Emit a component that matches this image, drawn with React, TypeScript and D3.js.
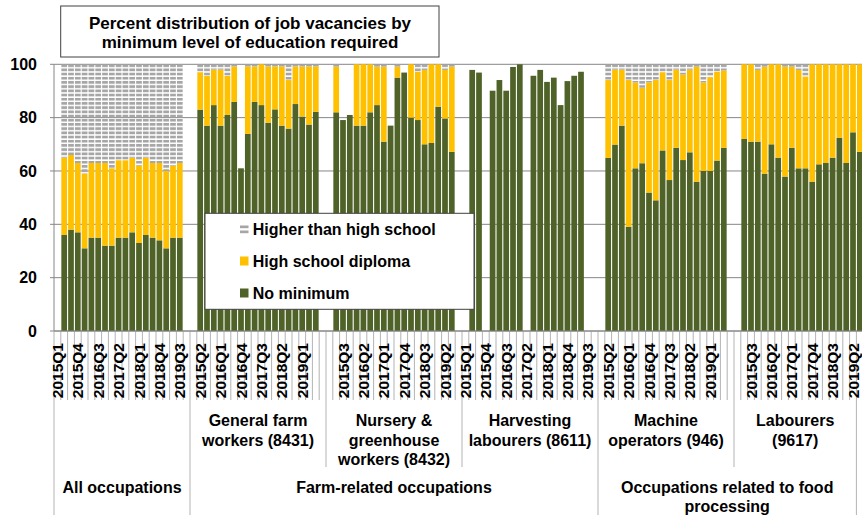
import React from 'react';
import * as d3 from 'd3';

// quarters shown on the first axis level (2015Q1 has no data in any group)
const quarters = [
  '2015Q1', '2015Q2', '2015Q3', '2015Q4', '2016Q1', '2016Q2', '2016Q3', '2016Q4',
  '2017Q1', '2017Q2', '2017Q3', '2017Q4', '2018Q1', '2018Q2', '2018Q3', '2018Q4',
  '2019Q1', '2019Q2', '2019Q3',
];

const occupationNames = [
  '',
  'General farm\nworkers (8431)',
  'Nursery &\ngreenhouse\nworkers (8432)',
  'Harvesting\nlabourers (8611)',
  'Machine\noperators (946)',
  'Labourers\n(9617)',
];

// sector label, first and last occupation group it covers
const sectors: Array<[string, number, number]> = [
  ['All occupations', 0, 0],
  ['Farm-related occupations', 1, 3],
  ['Occupations related to food\nprocessing', 4, 5],
];

const seriesNames = ['Higher than high school', 'High school diploma', 'No minimum'];

type V = number | null;

// All occupations
const allNoMin: V[] = [null, 36, 38, 37, 31, 35, 35, 32, 32, 35, 35, 37, 33, 36, 35, 34, 31, 35, 35];
const allHighSchool: V[] = [null, 29, 28, 26, 28, 28, 28, 31, 29, 29, 29, 28, 29, 29, 28, 29, 29, 27, 28];
const allHigher: V[] = [null, 35, 34, 37, 41, 37, 37, 37, 39, 36, 36, 35, 38, 35, 37, 37, 40, 38, 37];

// General farm workers (8431)
const farmNoMin: V[] = [null, 83, 77, 84.7, 77, 81, 85.9, 61, 73.9, 85.9, 84.7, 78.1, 83.1, 77, 75.9, 85.1, 80.4, 77.4, 82.2];
const farmHighSchool: V[] = [null, 14, 18.6, 13.3, 21, 14.6, 13.3, 0, 25.3, 13.3, 15.3, 21.1, 16.1, 22.2, 18.2, 14.1, 18.8, 21.8, 17];
const farmHigher: V[] = [null, 3, 4.4, 2, 2, 4.4, 0.8, 0, 0.8, 0.8, 0, 0.8, 0.8, 0.8, 5.9, 0.8, 0.8, 0.8, 0.8];

// Nursery & greenhouse workers (8432)
const nurseryNoMin: V[] = [null, 82, 79.1, 81, 77, 77, 82, 84.7, 71, 77, 95, 96.9, 80, 79.1, 70, 70.5, 84.1, 79.7, 67.2];
const nurseryHighSchool: V[] = [null, 17.1, 0, 0, 23, 23, 18, 14.4, 28.1, 0, 4.1, 0, 20, 18.1, 27.9, 29.5, 15.9, 18.2, 31.9];
const nurseryHigher: V[] = [null, 0.9, 0, 0, 0, 0, 0, 0.9, 0.9, 0, 0.9, 0, 0, 2.8, 2.1, 0, 0, 2.1, 0.9];

// Harvesting labourers (8611)
const harvestNoMin: V[] = [null, 97.9, 96.9, null, 90.1, 94.1, 90.1, 99, 100, null, 95.7, 97.9, 93.4, 95, 84.7, 93.7, 95.7, 97.2, null];
const harvestHighSchool: V[] = [null, 0, 0, null, 0, 0, 0, 0, 0, null, 0, 0, 0, 0, 0, 0, 0, 0, null];
const harvestHigher: V[] = [null, 0, 0, null, 0, 0, 0, 0, 0, null, 0, 0, 0, 0, 0, 0, 0, 0, null];

// Machine operators (946)
const machineNoMin: V[] = [null, 64.9, 69.9, 77, 39.1, 61, 62.9, 51.9, 49, 67.7, 56.6, 68.7, 64.1, 67, 56, 60, 60, 63.9, 68.7];
const machineHighSchool: V[] = [null, 29.2, 28.1, 21, 55, 32.2, 28.3, 41.3, 45.1, 29.3, 37.5, 29.3, 32.1, 31, 43.1, 33.2, 35.2, 33.3, 29];
const machineHigher: V[] = [null, 5.9, 2, 2, 5.9, 6.8, 8.8, 6.8, 5.9, 3, 5.9, 2, 3.8, 2, 0.9, 6.8, 4.8, 2.8, 2.3];

// Labourers (9617)
const labourNoMin: V[] = [null, 72, 71, 71, 59, 70, 65, 57.9, 68.7, 61, 61, 56, 62.5, 63, 65, 72.5, 63, 74.5, 67.2];
const labourHighSchool: V[] = [null, 28, 29, 26.9, 40.1, 30, 35, 41.2, 30.4, 36.9, 34.4, 44, 37.5, 37, 35, 27.5, 37, 25.5, 32.8];
const labourHigher: V[] = [null, 0, 0, 2.1, 0.9, 0, 0, 0.9, 0.9, 2.1, 4.6, 0, 0, 0, 0, 0, 0, 0, 0];

const groups = [
  { noMin: allNoMin, hs: allHighSchool, higher: allHigher },
  { noMin: farmNoMin, hs: farmHighSchool, higher: farmHigher },
  { noMin: nurseryNoMin, hs: nurseryHighSchool, higher: nurseryHigher },
  { noMin: harvestNoMin, hs: harvestHighSchool, higher: harvestHigher },
  { noMin: machineNoMin, hs: machineHighSchool, higher: machineHigher },
  { noMin: labourNoMin, hs: labourHighSchool, higher: labourHigher },
];

const yTicks = [0, 20, 40, 60, 80, 100];

const W = 862;
const H = 517;
const PER_GROUP = quarters.length + 1; // one blank slot after each group
const GREEN = '#4f6228';
const YELLOW = '#ffc000';
const GREY = '#a6a6a6';
const GRID = '#868686';
const SEP = '#b3b3b3';
const FONT = '"Liberation Sans", Arial, sans-serif';

type Row = { i: number; noMin: number; hs: number; higher: number };

const App: React.FC = () => {
  const n = groups.length * PER_GROUP;
  const cats = d3.range(n);
  const x = d3
    .scaleBand<number>()
    .domain(cats)
    .range([54, 54 + n * 6.8])
    .paddingInner(0.16)
    .paddingOuter(0.08);
  const step = x.step();
  const x0 = x.range()[0];
  const edge = (i: number) => x0 + i * step;
  const y = d3.scaleLinear().domain([0, 100]).range([331, 64.3]);

  const rows: Row[] = cats.map((i) => {
    const g = groups[Math.floor(i / PER_GROUP)];
    const k = i % PER_GROUP;
    if (k >= quarters.length) return { i, noMin: 0, hs: 0, higher: 0 };
    return { i, noMin: g.noMin[k] ?? 0, hs: g.hs[k] ?? 0, higher: g.higher[k] ?? 0 };
  });
  const stacked = d3.stack<Row>().keys(['noMin', 'hs', 'higher'])(rows);
  const fills: Record<string, string> = { noMin: GREEN, hs: YELLOW, higher: 'url(#dash)' };

  // visible end of the last group on the axis labels
  const lastEnd = edge(n - 2);
  const groupStart = (g: number) => edge(g * PER_GROUP);
  const groupEnd = (g: number) => (g === groups.length - 1 ? lastEnd : edge((g + 1) * PER_GROUP));

  const yBottom = y(0);
  const lvl1Bottom = 400;
  const lvl2Bottom = 467;
  const lvl3Bottom = 515;

  // separators of the second and third level
  const sectorEdges = new Set<number>();
  sectors.forEach(([, a, b]) => {
    sectorEdges.add(a);
    sectorEdges.add(b + 1);
  });

  return (
    <svg
      width={W}
      height={H}
      style={{ position: 'absolute', left: 0, top: 0, background: '#fff' }}
      fontFamily={FONT}
      fontWeight="bold"
    >
      <defs>
        <pattern id="dash" patternUnits="userSpaceOnUse" width={6.8} height={4.2} y={64.3}>
          <rect width={6.8} height={2.7} fill={GREY} />
        </pattern>
      </defs>

      {/* gridlines */}
      {yTicks.map((t) => (
        <line key={t} x1={x0} x2={W} y1={y(t)} y2={y(t)} stroke={GRID} strokeWidth={1} />
      ))}

      {/* bars */}
      {stacked.map((s) =>
        s.map((d, j) => {
          const h = y(d[0]) - y(d[1]);
          if (h <= 0) return null;
          return (
            <rect
              key={s.key + j}
              x={x(j)}
              y={y(d[1])}
              width={x.bandwidth()}
              height={h}
              fill={fills[s.key]}
            />
          );
        }),
      )}

      {/* y axis */}
      <line x1={x0} x2={x0} y1={y(100)} y2={yBottom} stroke={GRID} />
      {yTicks.map((t) => (
        <g key={t}>
          <line x1={x0 - 4} x2={x0} y1={y(t)} y2={y(t)} stroke={GRID} />
          <text x={37} y={y(t)} dy="0.36em" textAnchor="end" fontSize={16} fill="#000">
            {t}
          </text>
        </g>
      ))}

      {/* category ticks, first level */}
      {d3.range(n + 1).map((i) => (
        <line key={i} x1={edge(i)} x2={edge(i)} y1={yBottom} y2={lvl1Bottom} stroke={SEP} />
      ))}
      <line x1={x0} x2={W} y1={yBottom} y2={yBottom} stroke={GRID} />
      {cats
        .filter((i) => i % 3 === 0 && i % PER_GROUP < quarters.length)
        .map((i) => (
          <text
            key={i}
            transform={`translate(${x(i)! + x.bandwidth() / 2 + 5.6},343) rotate(-90)`}
            textAnchor="end"
            fontSize={15.5}
            fill="#000"
          >
            {quarters[i % PER_GROUP]}
          </text>
        ))}

      {/* second and third level separators */}
      {d3.range(groups.length + 1).map((g) => {
        const xx = g === groups.length ? lastEnd : groupStart(g);
        const deep = sectorEdges.has(g);
        return (
          <line
            key={g}
            x1={xx}
            x2={xx}
            y1={lvl1Bottom}
            y2={deep ? lvl3Bottom : lvl2Bottom}
            stroke={SEP}
          />
        );
      })}

      {/* occupation labels */}
      {occupationNames.map((name, g) => {
        const cx = (groupStart(g) + groupEnd(g)) / 2;
        return (
          <text key={g} x={cx} y={426} textAnchor="middle" fontSize={16} fill="#000">
            {name.split('\n').map((line, li) => (
              <tspan key={li} x={cx} dy={li === 0 ? 0 : 19.5}>
                {line}
              </tspan>
            ))}
          </text>
        );
      })}

      {/* sector labels */}
      {sectors.map(([name, a, b]) => {
        const cx = (groupStart(a) + groupEnd(b)) / 2;
        return (
          <text key={name} x={cx} y={493.3} textAnchor="middle" fontSize={16} fill="#000">
            {name.split('\n').map((line, li) => (
              <tspan key={li} x={cx} dy={li === 0 ? 0 : 18.5}>
                {line}
              </tspan>
            ))}
          </text>
        );
      })}

      {/* title */}
      <rect x={60.7} y={6} width={378.3} height={51} fill="#fff" stroke="#404040" />
      <text x={250} y={28.5} textAnchor="middle" fontSize={17} fill="#000">
        Percent distribution of job vacancies by
      </text>
      <text x={250} y={47.5} textAnchor="middle" fontSize={17} fill="#000">
        minimum level of education required
      </text>

      {/* legend */}
      <rect x={205} y={213.3} width={269} height={96} fill="#fff" stroke="#404040" />
      {seriesNames.map((name, i) => {
        const cy = 229 + i * 32;
        return (
          <g key={name}>
            {i === 0 ? (
              <g>
                <rect x={240} y={cy - 3.5} width={8.5} height={2.7} fill={GREY} />
                <rect x={240} y={cy + 1.5} width={8.5} height={2.7} fill={GREY} />
              </g>
            ) : (
              <rect x={240} y={cy - 4.5} width={8.5} height={9} fill={i === 1 ? YELLOW : GREEN} />
            )}
            <text x={252.7} y={cy} dy="0.36em" fontSize={16} fill="#000">
              {name}
            </text>
          </g>
        );
      })}
    </svg>
  );
};

export default App;
